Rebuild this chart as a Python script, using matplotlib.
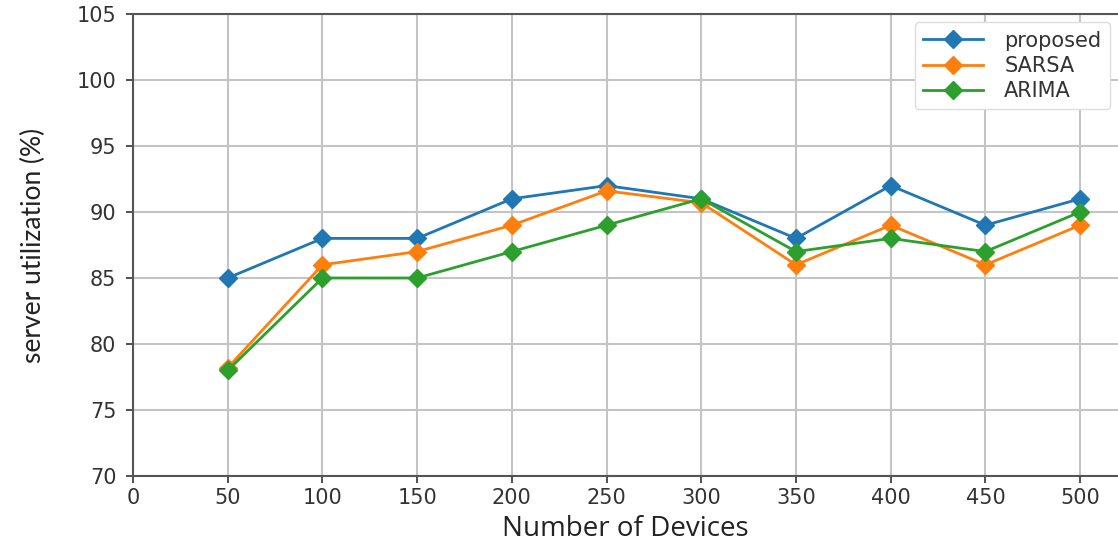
import numpy as np
import matplotlib
matplotlib.use("Agg")
from matplotlib import pyplot as plt

devices = [50, 100, 150, 200, 250, 300, 350, 400, 450, 500]
proposed = [85, 88, 88, 91, 92, 91, 88, 92, 89, 91]
sarsa = [78.2, 86, 87, 89, 91.6, 90.7, 86, 89, 86, 89]
arima = [78, 85, 85, 87, 89, 91, 87, 88, 87, 90]

xticks = [0, 50, 100, 150, 200, 250, 300, 350, 400, 450, 500]
yticks = [70, 75, 80, 85, 90, 95, 100, 105]

fig = plt.figure(figsize=(11.18, 5.44), dpi=100)
ax = fig.add_axes([133 / 1118, 1 - 476 / 544, 1 - 133 / 1118, (476 - 14) / 544])

ax.plot(devices, proposed, '-D', color='#1f77b4', lw=2, ms=9, label='proposed')
ax.plot(devices, sarsa, '-D', color='#ff7f0e', lw=2, ms=9, label='SARSA')
ax.plot(devices, arima, '-D', color='#2ca02c', lw=2, ms=9, label='ARIMA')

ax.set_xlim(0, 520)
ax.set_ylim(70, 105)
ax.set_xticks(xticks)
ax.set_yticks(yticks)
ax.tick_params(labelsize=15, colors='#333333', length=5, width=1.2)
ax.tick_params(axis='y', pad=7)
ax.grid(True, color='#c4c4c4', lw=1.5)
ax.set_axisbelow(True)
for side in ['left', 'bottom', 'top']:
    ax.spines[side].set_color('#555555')
    ax.spines[side].set_linewidth(1.5)
ax.spines['right'].set_visible(False)

ax.set_xlabel('Number of Devices', fontsize=20, family='Open Sans', color='#222222', labelpad=5)
ax.set_ylabel('server utilization (%)', fontsize=19, family='Lato', color='#222222', labelpad=22)

leg = ax.legend(loc='upper right', fontsize=15, framealpha=1, edgecolor='#dddddd',
                handlelength=2.9, handletextpad=1.0, borderaxespad=0.4, labelspacing=0.25)
for t in leg.get_texts():
    t.set_color('#333333')

plt.savefig('out.png', dpi=100)
plt.close(fig)
